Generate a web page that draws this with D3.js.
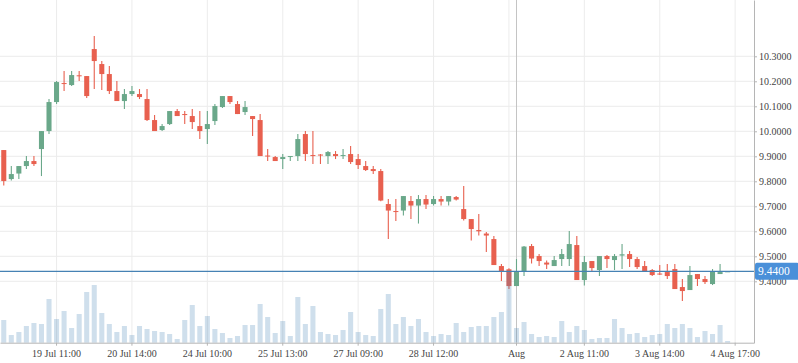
<!DOCTYPE html>
<html><head><meta charset="utf-8">
<script src="https://cdn.jsdelivr.net/npm/d3@7"></script>
<style>
html,body{margin:0;padding:0;background:#fff;}
svg{display:block;}
text{font-family:"Liberation Serif","Times New Roman",serif;}
</style></head>
<body><svg id="c" width="798" height="363"></svg>
<script>
const opens  = [9.925,9.809,9.831,9.861,9.881,9.929,10.001,10.117,10.193,10.185,10.224,10.221,10.329,10.269,10.229,10.161,10.121,10.149,10.149,10.129,10.045,10.005,10.029,10.081,10.069,10.061,10.021,10.009,10.041,10.097,10.141,10.109,10.077,10.061,10.045,9.903,9.897,9.889,9.899,9.901,9.989,9.905,9.907,9.901,9.909,9.903,9.909,9.889,9.861,9.849,9.841,9.709,9.681,9.683,9.721,9.703,9.729,9.709,9.729,9.719,9.737,9.689,9.649,9.605,9.591,9.569,9.461,9.448,9.381,9.441,9.541,9.501,9.475,9.461,9.489,9.489,9.545,9.405,9.481,9.445,9.501,9.485,9.503,9.509,9.489,9.461,9.445,9.431,9.437,9.449,9.377,9.365,9.429,9.409,9.389,9.429,9.44];
const highs  = [9.925,9.861,9.861,9.901,9.901,10.001,10.129,10.201,10.241,10.241,10.241,10.221,10.381,10.281,10.261,10.201,10.169,10.181,10.169,10.169,10.065,10.029,10.081,10.089,10.081,10.089,10.081,10.081,10.109,10.141,10.141,10.121,10.121,10.061,10.069,9.929,9.901,9.909,9.901,9.989,10.001,10.001,9.909,9.921,9.921,9.929,9.941,9.909,9.881,9.861,9.849,9.729,9.729,9.741,9.741,9.745,9.745,9.741,9.741,9.741,9.741,9.781,9.649,9.669,9.597,9.581,9.469,9.452,9.489,9.541,9.549,9.509,9.483,9.501,9.529,9.601,9.581,9.501,9.481,9.501,9.505,9.509,9.549,9.521,9.497,9.481,9.449,9.465,9.469,9.469,9.409,9.461,9.429,9.421,9.449,9.469,9.44];
const lows   = [9.783,9.803,9.809,9.849,9.861,9.821,9.989,10.109,10.161,10.181,10.201,10.133,10.169,10.165,10.149,10.121,10.089,10.141,10.129,10.041,10.001,10.001,10.025,10.061,10.029,10.009,9.969,9.949,10.025,10.093,10.109,10.069,10.065,9.981,9.901,9.881,9.881,9.849,9.881,9.881,9.881,9.869,9.869,9.869,9.889,9.889,9.869,9.849,9.841,9.829,9.720,9.569,9.641,9.663,9.649,9.631,9.689,9.703,9.703,9.703,9.723,9.643,9.563,9.583,9.517,9.465,9.401,9.369,9.381,9.421,9.471,9.461,9.449,9.461,9.461,9.461,9.405,9.383,9.441,9.421,9.453,9.445,9.449,9.457,9.449,9.441,9.421,9.425,9.409,9.369,9.321,9.365,9.381,9.389,9.385,9.429,9.44];
const closes = [9.801,9.829,9.861,9.881,9.869,10.001,10.117,10.197,10.191,10.225,10.221,10.141,10.281,10.229,10.161,10.121,10.149,10.161,10.137,10.045,10.001,10.021,10.081,10.061,10.067,10.037,10.001,10.029,10.101,10.141,10.117,10.069,10.097,10.049,9.901,9.900,9.881,9.897,9.901,9.969,9.909,9.903,9.903,9.917,9.901,9.905,9.877,9.865,9.845,9.841,9.723,9.683,9.679,9.741,9.703,9.729,9.707,9.729,9.719,9.741,9.727,9.649,9.609,9.600,9.583,9.465,9.441,9.381,9.441,9.539,9.491,9.481,9.467,9.485,9.509,9.549,9.405,9.477,9.453,9.501,9.489,9.501,9.508,9.489,9.457,9.441,9.425,9.427,9.421,9.369,9.361,9.425,9.409,9.397,9.441,9.437,9.44];
const volumes = [227,77,107,167,197,187,437,237,317,147,287,507,577,297,187,107,167,77,167,137,117,107,87,37,227,377,167,267,137,97,47,67,177,177,387,257,97,217,67,457,187,367,107,87,77,127,307,107,77,67,337,487,187,257,167,237,107,67,87,77,197,107,157,167,167,257,307,710,147,207,87,57,67,57,217,107,167,127,37,47,47,237,147,87,97,57,77,87,187,147,187,147,57,117,87,177,17];
const slotCount = 100;
const tickIndex  = [7,17,27,37,47,57,68,77,87,97];
const tickLabels = ["19 Jul 11:00","20 Jul 14:00","24 Jul 10:00","25 Jul 13:00","27 Jul 09:00","28 Jul 12:00","Aug","2 Aug 11:00","3 Aug 14:00","4 Aug 17:00"];
const gridIndex  = [7,17,27,37,47,57,67,77,87,97];
const priceTicks = [9.4,9.5,9.6,9.7,9.8,9.9,10.0,10.1,10.2,10.3];
const crossIndex = 68;
const lastPrice  = 9.44;

const W = 754, H = 342.7;
const svg = d3.select("#c");
const x = d3.scaleBand().domain(d3.range(slotCount)).range([0, W]).paddingInner(0.33).paddingOuter(0.165);
const cx = i => x(i) + x.bandwidth()/2;
const y = d3.scaleLinear().domain([9.1544, 10.5252]).range([H, 0]);
const yv = d3.scaleLinear().domain([0, 1000]).range([H, H - 100]);

const data = opens.map((o,i)=>({i, o, h:highs[i], l:lows[i], c:closes[i], v:volumes[i]}));

// grid
const g = svg.append("g");
g.selectAll("line.hg").data(priceTicks).join("line")
  .attr("x1",0).attr("x2",W).attr("y1",d=>y(d)).attr("y2",d=>y(d))
  .attr("stroke","#ececec").attr("stroke-width",1);
g.selectAll("line.vg").data(gridIndex).join("line")
  .attr("x1",d=>cx(d)).attr("x2",d=>cx(d)).attr("y1",0).attr("y2",H)
  .attr("stroke","#ececec").attr("stroke-width",1);

// crosshair vertical
svg.append("line").attr("x1",cx(crossIndex)).attr("x2",cx(crossIndex)).attr("y1",0).attr("y2",H)
  .attr("stroke","#c4c4c4").attr("stroke-width",1);

const up = "#6aa88a", down = "#e8604f";
const cg = svg.append("g");
cg.selectAll("line.w").data(data).join("line")
  .attr("x1",d=>cx(d.i)).attr("x2",d=>cx(d.i))
  .attr("y1",d=>y(d.h)).attr("y2",d=>y(d.l))
  .attr("stroke",d=>d.c>=d.o?up:down).attr("stroke-width",1.1);
cg.selectAll("rect.b").data(data).join("rect")
  .attr("x",d=>x(d.i)).attr("width",x.bandwidth())
  .attr("y",d=>y(Math.max(d.o,d.c)))
  .attr("height",d=>Math.max(1, y(Math.min(d.o,d.c)) - y(Math.max(d.o,d.c))))
  .attr("fill",d=>d.c>=d.o?up:down);

// volume
svg.append("g").selectAll("rect").data(data).join("rect")
  .attr("x",d=>x(d.i)).attr("width",x.bandwidth())
  .attr("y",d=>yv(d.v)).attr("height",d=>H - yv(d.v))
  .attr("fill","steelblue").attr("fill-opacity",0.26);

// last price line
svg.append("line").attr("x1",0).attr("x2",W).attr("y1",y(lastPrice)).attr("y2",y(lastPrice))
  .attr("stroke","#4682b4").attr("stroke-width",1.2);

// axes
const ya = svg.append("g").attr("transform",`translate(${W},0)`)
  .call(d3.axisRight(y).tickValues(priceTicks).tickFormat(d3.format(".4f")).tickSize(3).tickSizeOuter(0).tickPadding(2));
const xa = svg.append("g").attr("transform",`translate(0,${H})`)
  .call(d3.axisBottom(x).tickValues(tickIndex).tickFormat((d,k)=>tickLabels[k]).tickSize(3).tickSizeOuter(0).tickPadding(4));
[ya, xa].forEach(a=>{
  a.select(".domain").attr("stroke","#b5b5b5");
  a.selectAll(".tick line").attr("stroke","#b5b5b5");
  a.selectAll("text").attr("fill","#444").style("font-size","10px").style("font-family","'Liberation Serif',serif");
});

// annotation
const ay = y(lastPrice);
svg.append("rect").attr("x",W+1).attr("y",ay-8.5).attr("width",798-W).attr("height",17)
  .attr("rx",2).attr("fill","#4a90d9");
svg.append("text").attr("x",W+4).attr("y",ay+4).attr("fill","#fff")
  .style("font-size","11.5px").style("font-family","'Liberation Serif',serif").text(d3.format(".4f")(lastPrice));
</script></body></html>
